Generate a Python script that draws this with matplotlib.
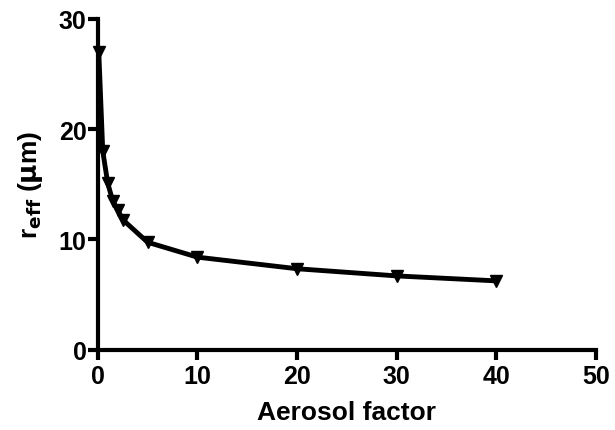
import matplotlib
matplotlib.use('Agg')
import matplotlib.pyplot as plt

# --- Datos ---
aerosol = [0.1, 0.5, 1.0, 1.5, 2.0, 2.5, 5, 10, 20, 30, 40]
r_eff = [27.0, 18.0, 15.1, 13.5, 12.7, 11.8, 9.75, 8.4, 7.35, 6.7, 6.25]

xticks = [0, 10, 20, 30, 40, 50]
yticks = [0, 10, 20, 30]

plt.rcParams['font.family'] = ['Liberation Sans', 'DejaVu Sans']
plt.rcParams['font.weight'] = 'bold'

fig = plt.figure(figsize=(6.15, 4.31), dpi=100)
ax = fig.add_axes([0.159, 0.186, 0.81, 0.768])

ax.plot(aerosol, r_eff, color='black', linewidth=3.5, marker='v',
        markersize=9, solid_capstyle='round', clip_on=False)

ax.set_xlim(0, 50)
ax.set_ylim(0, 30)
ax.set_xticks(xticks)
ax.set_yticks(yticks)

for s in ['top', 'right']:
    ax.spines[s].set_visible(False)
for s in ['left', 'bottom']:
    ax.spines[s].set_linewidth(3)
ax.tick_params(direction='out', length=7, width=3, labelsize=18, pad=1)
ax.tick_params(axis='x', pad=3)
for lab in ax.get_xticklabels() + ax.get_yticklabels():
    lab.set_fontweight('bold')

ax.set_xlabel('Aerosol factor', fontsize=19, fontweight='bold', labelpad=9)
ax.set_ylabel(r'r$_{\mathbf{eff}}$ ($\mathbf{\mu}$m)', fontsize=19, fontweight='bold', labelpad=10)

fig.savefig('out.png', dpi=100)
